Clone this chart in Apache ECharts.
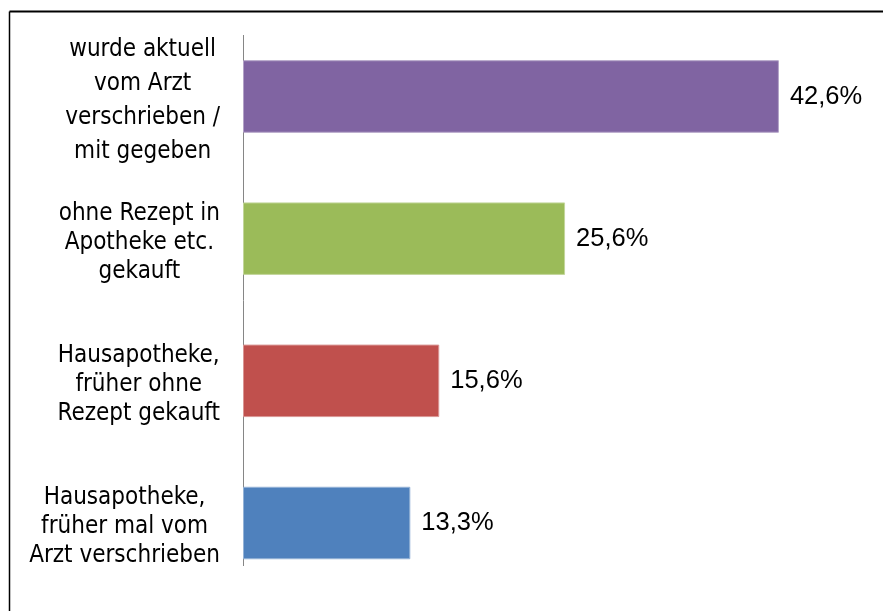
<!DOCTYPE html>
<html>
<head>
<meta charset="utf-8">
<script src="https://cdn.jsdelivr.net/npm/echarts@6/dist/echarts.min.js"></script>
<style>
  html, body { margin: 0; padding: 0; background: #fff; }
  #chart { width: 883px; height: 611px; }
</style>
</head>
<body>
<div id="chart"></div>
<script>
// Categories (top to bottom) and their shares in percent
const categories = [
  'wurde aktuell\nvom Arzt\nverschrieben /\nmit gegeben',
  'ohne Rezept in\nApotheke etc.\ngekauft',
  'Hausapotheke,\nfrüher ohne\nRezept gekauft',
  'Hausapotheke,\nfrüher mal vom\nArzt verschrieben'
];
const values = [42.6, 25.6, 15.6, 13.3];
const barColors = ['#8064A2', '#9BBB59', '#C0504D', '#4F81BD'];
const borderColors = ['#B3A2C7', '#C3D69B', '#D99694', '#95B3D7'];

const labelFont = '"DejaVu Sans Condensed", "Open Sans", sans-serif';

const chart = echarts.init(document.getElementById('chart'), null, { renderer: 'canvas' });

chart.setOption({
  animation: false,
  backgroundColor: '#fff',
  grid: { left: 243, right: 11, top: 25.4, bottom: 16.9, containLabel: false },
  xAxis: {
    type: 'value',
    min: 0,
    max: 50,
    show: false
  },
  yAxis: {
    type: 'category',
    inverse: true,
    data: categories,
    axisLine: { show: false },
    axisTick: { show: false },
    axisLabel: {
      margin: 23,
      align: 'right',
      padding: [8, 0, 0, 0],
      formatter: function (v, i) {
        return (i === 0 ? '{a|' : '{b|') + v + '}';
      },
      rich: {
        a: { fontFamily: labelFont, fontSize: 24, color: '#000', lineHeight: 34, align: 'center' },
        b: { fontFamily: labelFont, fontSize: 24, color: '#000', lineHeight: 29, align: 'center' }
      }
    }
  },
  series: [{
    type: 'bar',
    barWidth: '51%',
    data: values.map(function (v, i) {
      return {
        value: v,
        itemStyle: { color: barColors[i], borderColor: borderColors[i], borderWidth: 1 }
      };
    }),
    label: {
      show: true,
      position: 'right',
      distance: 11,
      fontFamily: '"Liberation Sans", Arial, sans-serif',
      fontSize: 25.5,
      color: '#000',
      formatter: function (p) {
        return p.value.toFixed(1).replace('.', ',') + '%';
      }
    }
  }],
  graphic: [
    // chart frame (top and left edges)
    { type: 'line', silent: true, shape: { x1: 9.5, y1: 11.5, x2: 883, y2: 11.5 }, style: { stroke: '#000', lineWidth: 2 } },
    { type: 'line', silent: true, shape: { x1: 9.5, y1: 11.5, x2: 9.5, y2: 611 }, style: { stroke: '#000', lineWidth: 1.5 } },
    // category axis line
    { type: 'line', silent: true, shape: { x1: 243.5, y1: 35, x2: 243.5, y2: 566 }, style: { stroke: '#868686', lineWidth: 1 } }
  ]
});
</script>
</body>
</html>
